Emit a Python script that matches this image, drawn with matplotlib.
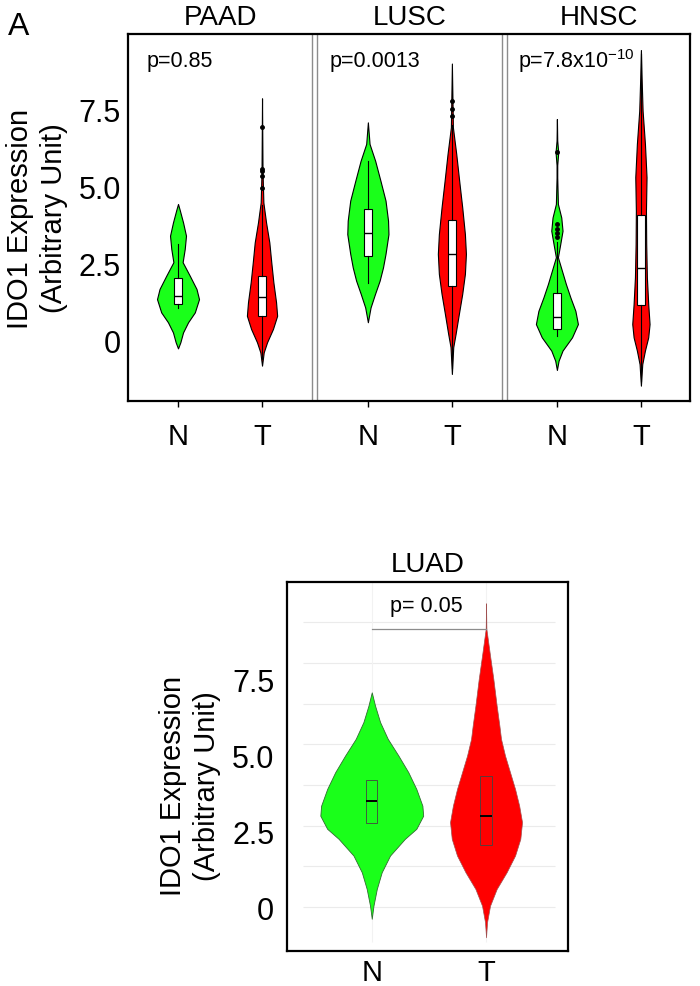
import matplotlib
matplotlib.use('Agg')
import matplotlib.pyplot as plt
import matplotlib.transforms as mtransforms

plt.rcParams['font.family'] = ['Liberation Sans', 'DejaVu Sans']
plt.rcParams['mathtext.fontset'] = 'custom'
plt.rcParams['mathtext.rm'] = 'Liberation Sans'

GREEN = '#1aff1a'
RED = '#ff0000'

# ---- top panel: PAAD / LUSC / HNSC ----
cancers = ['PAAD', 'LUSC', 'HNSC']
pvalues = ['p=0.85', 'p=0.0013', 'p=7.8x10$^{\\mathrm{-10}}$']
groups = ['N', 'T']

# violin outlines: levels and half widths
paad_n_y = [4.44, 4.25, 3.84, 3.41, 2.98, 2.55, 2.11, 1.68, 1.35, 0.92, 0.60, 0.27, -0.05, -0.25]
paad_n_w = [0, 0.02, 0.06, 0.095, 0.08, 0.055, 0.14, 0.22, 0.25, 0.20, 0.12, 0.06, 0.028, 0]
paad_t_y = [7.87, 5.5, 4.49, 3.84, 3.19, 2.55, 1.90, 1.25, 0.81, 0.38, -0.05, -0.38, -0.81]
paad_t_w = [0, 0.006, 0.016, 0.048, 0.087, 0.11, 0.135, 0.167, 0.18, 0.13, 0.06, 0.02, 0]
lusc_n_y = [7.09, 6.39, 5.84, 5.19, 4.55, 3.90, 3.46, 2.82, 2.38, 1.95, 1.52, 1.08, 0.60]
lusc_n_w = [0, 0.02, 0.087, 0.15, 0.21, 0.24, 0.245, 0.21, 0.18, 0.14, 0.085, 0.032, 0]
lusc_t_y = [9.0, 6.93, 6.06, 5.19, 4.33, 3.46, 2.82, 2.17, 1.52, 0.87, 0.22, -0.21, -1.08]
lusc_t_w = [0, 0.012, 0.052, 0.087, 0.123, 0.155, 0.167, 0.155, 0.123, 0.083, 0.044, 0.016, 0]
hnsc_n_y = [7.2, 6.5, 6.12, 5.7, 5.3, 4.44, 4.0, 3.57, 3.14, 2.71, 2.27, 1.84, 1.41, 0.97, 0.54,
            0.11, -0.32, -0.65, -0.95]
hnsc_n_w = [0, 0.004, 0.016, 0.004, 0.004, 0.012, 0.052, 0.067, 0.04, 0.012, 0.06, 0.107, 0.16,
            0.22, 0.25, 0.18, 0.067, 0.02, 0]
hnsc_t_y = [9.44, 8.55, 7.47, 6.39, 5.31, 4.22, 3.14, 2.06, 1.19, 0.54, 0.11, -0.32, -0.76, -1.46]
hnsc_t_w = [0, 0.008, 0.02, 0.048, 0.067, 0.06, 0.063, 0.071, 0.087, 0.103, 0.087, 0.048, 0.016, 0]

# box stats: q1, median, q3, whisker low, whisker high, outliers
paad_n_box = [1.19, 1.46, 2.03, 1.05, 3.14, []]
paad_t_box = [0.81, 1.41, 2.11, -0.6, 4.4, [4.96, 5.34, 5.51, 5.57, 6.95]]
lusc_n_box = [2.74, 3.50, 4.28, 1.86, 5.84, []]
lusc_t_box = [1.77, 2.82, 3.93, -0.9, 7.0, [7.31, 7.52, 7.79]]
hnsc_n_box = [0.38, 0.78, 1.54, 0.16, 3.2, [3.38, 3.49, 3.63, 3.79, 6.12]]
hnsc_t_box = [1.16, 2.36, 4.09, -1.3, 9.3, []]

# ---- bottom panel: LUAD ----
luad_n_y = [7.07, 6.63, 6.09, 5.54, 4.99, 4.44, 3.89, 3.34, 3.01, 2.58, 2.25, 1.70, 1.15, 0.60, 0.05, -0.38]
luad_n_w = [0, 0.029, 0.073, 0.14, 0.233, 0.32, 0.39, 0.443, 0.45, 0.39, 0.29, 0.16, 0.087, 0.044, 0.015, 0]
luad_t_y = [10.0, 9.16, 8.28, 7.51, 6.63, 5.97, 5.54, 4.99, 4.44, 3.89, 3.34, 2.80, 2.25, 1.70, 1.15,
            0.60, 0.05, -0.49, -0.99]
luad_t_w = [0, 0.003, 0.035, 0.064, 0.093, 0.117, 0.131, 0.166, 0.21, 0.254, 0.29, 0.315, 0.30,
            0.254, 0.18, 0.093, 0.035, 0.009, 0]
luad_n_box = [2.76, 3.51, 4.19]
luad_t_box = [2.05, 3.01, 4.33]
luad_p = 'p= 0.05'

yticks = [0, 2.5, 5, 7.5]
ytick_labels = ['0', '2.5', '5.0', '7.5']
ylabel = 'IDO1 Expression\n(Arbitrary Unit)'


def box_stats(b):
    return dict(q1=b[0], med=b[1], q3=b[2], whislo=b[3], whishi=b[4], fliers=b[5])


fig = plt.figure(figsize=(7, 9.87), dpi=100)
fig.text(0.011, 0.988, 'A', fontsize=23, va='top', ha='left')

ax = fig.add_axes([0.1829, 0.5927, 0.8029, 0.3718])
offsets = [0, 2.26, 4.51]
violins = [[(paad_n_y, paad_n_w, paad_n_box), (paad_t_y, paad_t_w, paad_t_box)],
           [(lusc_n_y, lusc_n_w, lusc_n_box), (lusc_t_y, lusc_t_w, lusc_t_box)],
           [(hnsc_n_y, hnsc_n_w, hnsc_n_box), (hnsc_t_y, hnsc_t_w, hnsc_t_box)]]
colors = [GREEN, RED]
trans = mtransforms.blended_transform_factory(ax.transData, ax.transAxes)
xpos = []
for i, name in enumerate(cancers):
    for j, (ys, ws, box) in enumerate(violins[i]):
        c = 1 + j + offsets[i]
        xpos.append(c)
        ax.fill_betweenx(ys, [c - w for w in ws], [c + w for w in ws],
                         facecolor=colors[j], edgecolor='black', lw=0.8, zorder=2)
        ax.bxp([box_stats(box)], positions=[c], widths=0.1, patch_artist=True,
               showcaps=False, manage_ticks=False, zorder=3,
               boxprops=dict(facecolor='white', edgecolor='black', lw=0.8),
               medianprops=dict(color='black', lw=1.0),
               whiskerprops=dict(color='black', lw=0.8),
               flierprops=dict(marker='o', ms=2.5, mfc='black', mec='black'))
    ax.text(1.5 + offsets[i], 1.046, name, transform=trans, ha='center', va='center', fontsize=20)

ax.text(0.63, 9.11, pvalues[0], fontsize=15.5, va='center')
ax.text(2.80, 9.11, pvalues[1], fontsize=15.5, va='center')
ax.text(5.05, 9.11, pvalues[2], fontsize=15.5, va='center')

for x in [2.599, 2.651, 4.854, 4.913]:
    ax.axvline(x, color='#8c8c8c', lw=1.0, zorder=1)

ax.set_xlim(0.405, 7.095)
ax.set_ylim(-1.958, 9.958)
ax.set_xticks(xpos, groups * 3)
ax.set_yticks(yticks, ytick_labels)
ax.tick_params(axis='x', length=4, width=1, pad=11, labelsize=21)
ax.tick_params(axis='y', length=0, pad=5, labelsize=22)
for s in ax.spines.values():
    s.set_linewidth(1.6)
ax.text(-0.162, 0.5, ylabel, transform=ax.transAxes, rotation=90, ha='center', va='center',
        fontsize=21, linespacing=1.3, multialignment='center')

# ---- LUAD ----
ax2 = fig.add_axes([0.4096, 0.0358, 0.4023, 0.3732])
ax2.set_xlim(0.256, 2.72)
ax2.set_ylim(-1.43, 10.69)
for lev in [0, 1.34, 2.68, 4.02, 5.36, 6.7, 8.04, 9.38]:
    ax2.hlines(lev, 0.4, 2.6, color='#ebebeb', lw=0.8, zorder=0)
ax2.vlines([1, 2], -1.15, 10.69, color='#f2f2f2', lw=0.8, zorder=0)

ax2.fill_betweenx(luad_n_y, [1 - w for w in luad_n_w], [1 + w for w in luad_n_w],
                  facecolor=GREEN, edgecolor='#2f6b2f', lw=0.6, zorder=2)
ax2.fill_betweenx(luad_t_y, [2 - w for w in luad_t_w], [2 + w for w in luad_t_w],
                  facecolor=RED, edgecolor='#a05050', lw=0.5, zorder=2)
luad_stats = [dict(q1=b[0], med=b[1], q3=b[2], whislo=b[0], whishi=b[2], fliers=[])
              for b in [luad_n_box, luad_t_box]]
ax2.bxp(luad_stats, positions=[1, 2], widths=0.1, patch_artist=True, showcaps=False,
        manage_ticks=False, zorder=3,
        boxprops=dict(facecolor='none', edgecolor='#444444', lw=0.6),
        medianprops=dict(color='black', lw=1.4),
        whiskerprops=dict(color='#444444', lw=0.6))

ax2.plot([1, 2], [9.16, 9.16], color='#8c8c8c', lw=0.9, zorder=2)
ax2.text(1.48, 9.92, luad_p, ha='center', va='center', fontsize=15.5)
ax2.set_title('LUAD', fontsize=20, pad=8)

ax2.set_xticks([1, 2], groups)
ax2.set_yticks(yticks, ytick_labels)
ax2.tick_params(axis='x', length=0, pad=5, labelsize=21)
ax2.tick_params(axis='y', length=0, pad=9, labelsize=22)
for s in ax2.spines.values():
    s.set_linewidth(1.6)
ax2.text(-0.343, 0.45, ylabel, transform=ax2.transAxes, rotation=90, ha='center', va='center',
         fontsize=21, linespacing=1.3, multialignment='center')

fig.savefig('out.png', dpi=100)
